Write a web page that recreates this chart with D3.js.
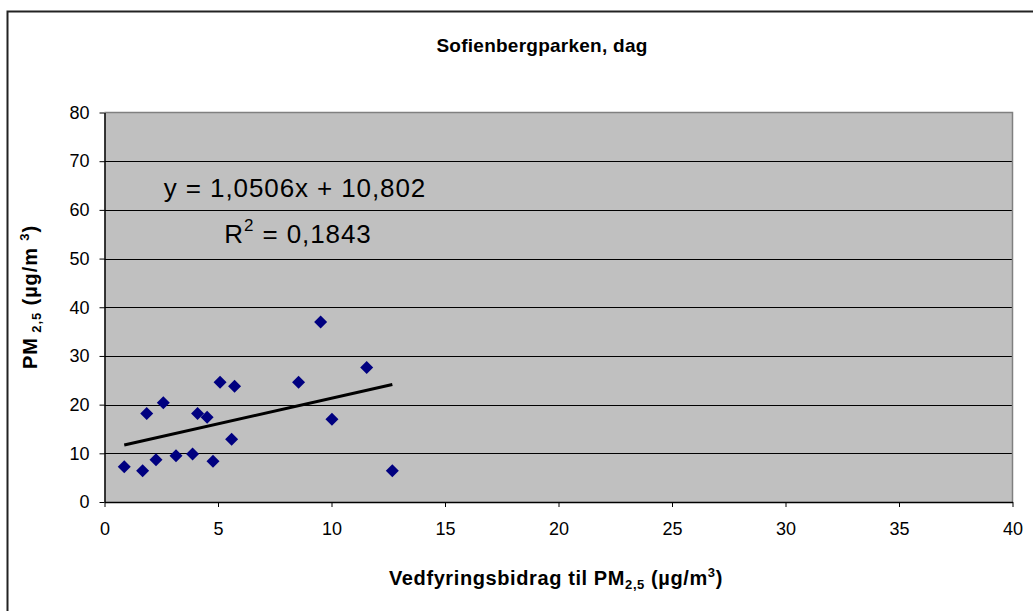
<!DOCTYPE html>
<html><head><meta charset="utf-8">
<script src="https://cdn.jsdelivr.net/npm/d3@7"></script>
<style>
html,body{margin:0;padding:0;background:#fff;}
svg{display:block;font-family:"Liberation Sans",Arial,sans-serif;}
</style></head>
<body>
<svg id="chart" width="1033" height="611"></svg>
<script>
const titleText = "Sofienbergparken, dag";
const xValues = [0.87, 1.68, 1.86, 2.27, 2.59, 3.15, 3.88, 4.10, 4.52, 4.78, 5.09, 5.60, 5.73, 8.55, 9.52, 10.02, 11.55, 12.68];
const yValues = [7.25, 6.43, 18.2, 8.7, 20.4, 9.5, 9.86, 18.2, 17.4, 8.36, 24.6, 12.9, 23.75, 24.6, 36.96, 17.0, 27.6, 6.43];
const xTicks = [0, 5, 10, 15, 20, 25, 30, 35, 40];
const yTicks = [0, 10, 20, 30, 40, 50, 60, 70, 80];
const slope = 1.0506, intercept = 10.802;
const eqLine1 = "y = 1,0506x + 10,802";
const eqR2 = "0,1843";

const svg = d3.select("#chart");
const L = 104.5, R = 1012.5, T = 112.5, B = 502;
const x = d3.scaleLinear().domain([0, 40]).range([L, R]);
const y = d3.scaleLinear().domain([0, 80]).range([B, T]);

// outer frame
svg.append("rect").attr("x", 7.5).attr("y", 11.5).attr("width", 1040).attr("height", 620)
  .attr("fill", "#fff").attr("stroke", "#222").attr("stroke-width", 2);

// plot background
svg.append("rect").attr("x", L).attr("y", T).attr("width", R - L).attr("height", B - T)
  .attr("fill", "#c0c0c0");

// gridlines
svg.append("g").selectAll("line").data(yTicks.filter(d => d > 0 && d < 80)).join("line")
  .attr("x1", L).attr("x2", R).attr("y1", d => Math.round(y(d)) + 0.5).attr("y2", d => Math.round(y(d)) + 0.5)
  .attr("stroke", "#000").attr("stroke-width", 1);

// plot border top/right
svg.append("path").attr("d", `M${L},${T}H${R}V${B}`).attr("fill", "none").attr("stroke", "#808080").attr("stroke-width", 1.5);

// axes
const xAxis = d3.axisBottom(x).tickValues(xTicks).tickSize(5).tickSizeOuter(0).tickPadding(15).tickFormat(d3.format("d"));
const gx = svg.append("g").attr("transform", `translate(0,${B})`).call(xAxis);
const yAxis = d3.axisLeft(y).tickValues(yTicks).tickSize(5).tickSizeOuter(0).tickPadding(10).tickFormat(d3.format("d"));
const gy = svg.append("g").attr("transform", `translate(${L},0)`).call(yAxis);
[gx, gy].forEach(g => {
  g.select(".domain").attr("stroke", "#000").attr("stroke-width", 1.5);
  g.selectAll(".tick line").attr("stroke", "#000");
  g.selectAll(".tick text").attr("fill", "#000").attr("font-size", 18).attr("font-family", "Liberation Sans, Arial, sans-serif");
});

// trendline
const xmin = d3.min(xValues), xmax = d3.max(xValues);
svg.append("line")
  .attr("x1", x(xmin)).attr("y1", y(slope * xmin + intercept))
  .attr("x2", x(xmax)).attr("y2", y(slope * xmax + intercept))
  .attr("stroke", "#000").attr("stroke-width", 3);

// points
const pts = xValues.map((v, i) => [v, yValues[i]]);
svg.append("g").selectAll("path").data(pts).join("path")
  .attr("d", d => { const cx = x(d[0]), cy = y(d[1]), r = 6.5; return `M${cx},${cy - r}L${cx + r},${cy}L${cx},${cy + r}L${cx - r},${cy}Z`; })
  .attr("fill", "#000080");

// title
svg.append("text").attr("x", 542).attr("y", 52).attr("text-anchor", "middle")
  .attr("font-size", 19).attr("letter-spacing", 0.25).attr("font-weight", "bold").text(titleText);

// equation
svg.append("text").attr("x", 295).attr("y", 197).attr("text-anchor", "middle")
  .attr("font-size", 26).attr("letter-spacing", 0.9).text(eqLine1);
const r2 = svg.append("text").attr("x", 298).attr("y", 243).attr("text-anchor", "middle")
  .attr("font-size", 26).attr("letter-spacing", 0.9);
r2.append("tspan").text("R");
r2.append("tspan").attr("dy", -12).attr("font-size", 17).text("2");
r2.append("tspan").attr("dy", 12).text(" = " + eqR2);

// x label
const xl = svg.append("text").attr("x", 556).attr("y", 585).attr("text-anchor", "middle")
  .attr("font-size", 20).attr("letter-spacing", 0.6).attr("font-weight", "bold");
xl.append("tspan").text("Vedfyringsbidrag til PM");
xl.append("tspan").attr("dy", 4).attr("font-size", 13).text("2,5");
xl.append("tspan").attr("dy", -4).text(" (µg/m");
xl.append("tspan").attr("dy", -8).attr("font-size", 13).text("3");
xl.append("tspan").attr("dy", 8).text(")");

// y label
const yl = svg.append("text").attr("transform", "translate(37,297) rotate(-90)").attr("text-anchor", "middle")
  .attr("font-size", 20).attr("letter-spacing", 0.9).attr("font-weight", "bold");
yl.append("tspan").text("PM");
yl.append("tspan").attr("dy", 4).attr("font-size", 13).text(" 2,5");
yl.append("tspan").attr("dy", -4).text(" (µg/m ");
yl.append("tspan").attr("dy", -8).attr("font-size", 13).text("3");
yl.append("tspan").attr("dy", 8).text(")");
</script>
</body></html>
